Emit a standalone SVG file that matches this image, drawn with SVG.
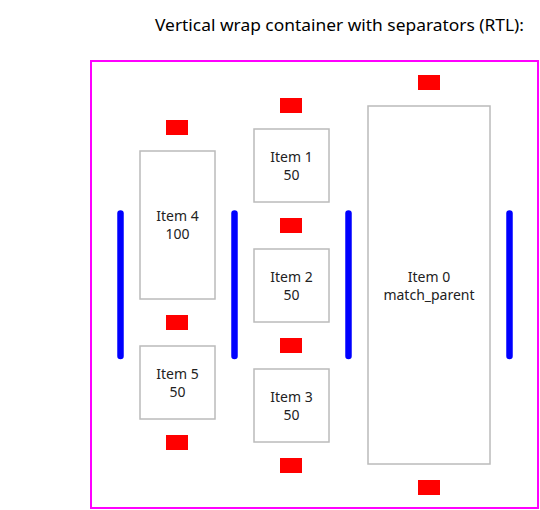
<svg xmlns="http://www.w3.org/2000/svg" width="540" height="510" viewBox="0 0 540 510">
<style>
.item{fill:#fff;stroke:#bbb;stroke-width:1.5}
.lbl{font-family:"Noto Sans","Open Sans",sans-serif;font-size:14px;fill:#222;text-anchor:middle}
.title{font-family:"Noto Sans","Open Sans",sans-serif;font-size:17px;fill:#000}
.sep{fill:#f00}
.div{stroke:#00f;stroke-width:6.5;stroke-linecap:round}
</style>
<rect width="540" height="510" fill="#fff"/>
<text class="title" x="155" y="31" textLength="369" lengthAdjust="spacingAndGlyphs">Vertical wrap container with separators (RTL):</text>
<g id="container"><rect x="91" y="61" width="447" height="447" fill="none" stroke="#f0f" stroke-width="2"/></g>
<g id="connectors">
<line class="div" x1="120.5" y1="213.5" x2="120.5" y2="356"/>
<line class="div" x1="234.5" y1="213.5" x2="234.5" y2="356"/>
<line class="div" x1="348.5" y1="213.5" x2="348.5" y2="356"/>
<line class="div" x1="509.5" y1="213.5" x2="509.5" y2="356"/>
</g>
<g id="separators">
<rect class="sep" x="166" y="120" width="22" height="15"/>
<rect class="sep" x="166" y="315" width="22" height="15"/>
<rect class="sep" x="166" y="435" width="22" height="15"/>
<rect class="sep" x="280" y="98" width="22" height="15"/>
<rect class="sep" x="280" y="218" width="22" height="15"/>
<rect class="sep" x="280" y="338" width="22" height="15"/>
<rect class="sep" x="280" y="458" width="22" height="15"/>
<rect class="sep" x="418" y="75" width="22" height="15"/>
<rect class="sep" x="418" y="480" width="22" height="15"/>
</g>
<g id="item0"><rect class="item" x="368" y="106" width="122" height="358"/><text class="lbl" x="429" y="281.5">Item 0</text><text class="lbl" x="429" y="299.5">match_parent</text></g>
<g id="item1"><rect class="item" x="254" y="129" width="75" height="73"/><text class="lbl" x="291.5" y="161.5">Item 1</text><text class="lbl" x="291.5" y="179.5">50</text></g>
<g id="item2"><rect class="item" x="254" y="249" width="75" height="73"/><text class="lbl" x="291.5" y="281.5">Item 2</text><text class="lbl" x="291.5" y="299.5">50</text></g>
<g id="item3"><rect class="item" x="254" y="369" width="75" height="73"/><text class="lbl" x="291.5" y="401.5">Item 3</text><text class="lbl" x="291.5" y="419.5">50</text></g>
<g id="item4"><rect class="item" x="140" y="151" width="75" height="148"/><text class="lbl" x="177.5" y="221">Item 4</text><text class="lbl" x="177.5" y="239">100</text></g>
<g id="item5"><rect class="item" x="140" y="346" width="75" height="73"/><text class="lbl" x="177.5" y="378.5">Item 5</text><text class="lbl" x="177.5" y="396.5">50</text></g>
</svg>
